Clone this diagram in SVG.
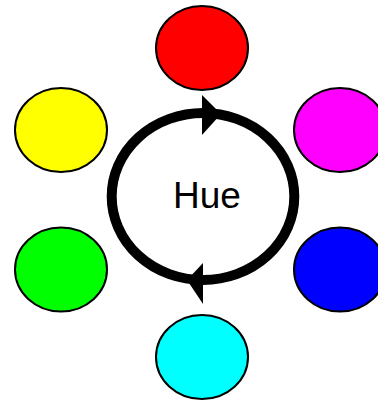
<svg xmlns="http://www.w3.org/2000/svg" width="378" height="400" viewBox="0 0 378 400">
<style>
.node ellipse{stroke:#000;stroke-width:2}
.ring{fill:none;stroke:#000;stroke-width:10}
.head{fill:#000;stroke:none}
.lbl{font-family:"Liberation Sans",Arial,sans-serif;font-size:37px;fill:#000;text-anchor:middle}
</style>
<rect width="378" height="400" fill="#fff"/>
<g id="red" class="node"><ellipse cx="202" cy="48" rx="46" ry="42" fill="#ff0000"/></g>
<g id="magenta" class="node"><ellipse cx="340" cy="130" rx="46" ry="42" fill="#ff00ff"/></g>
<g id="blue" class="node"><ellipse cx="340" cy="269.5" rx="46" ry="42" fill="#0000ff"/></g>
<g id="cyan" class="node"><ellipse cx="202" cy="357" rx="46" ry="42" fill="#00ffff"/></g>
<g id="green" class="node"><ellipse cx="61" cy="269.5" rx="46" ry="42" fill="#00ff00"/></g>
<g id="yellow" class="node"><ellipse cx="61" cy="130" rx="46" ry="42" fill="#ffff00"/></g>
<g id="connectors">
<ellipse class="ring" cx="203" cy="196.5" rx="91.3" ry="83.5"/>
<polygon class="head" points="202,95 221,114 202,135"/>
<polygon class="head" points="203,263 187,280 203,304"/>
</g>
<g id="hue"><text class="lbl" x="207" y="208">Hue</text></g>
</svg>
